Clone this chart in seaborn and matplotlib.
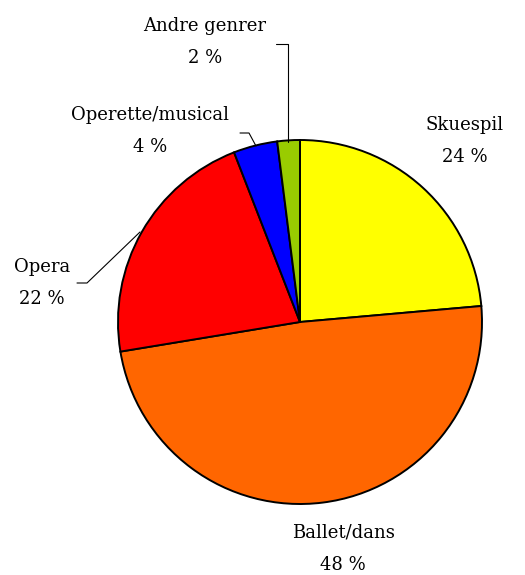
import matplotlib
matplotlib.use("Agg")
import matplotlib.pyplot as plt
import seaborn as sns

categories = ["Skuespil", "Ballet/dans", "Opera", "Operette/musical", "Andre genrer"]
shares = [23.6, 48.8, 21.7, 3.9, 2.0]
pct_labels = ["24 %", "48 %", "22 %", "4 %", "2 %"]
colors = ["#FFFF00", "#FF6600", "#FF0000", "#0000FF", "#99CC00"]

sns.set_theme(style="white")
plt.rcParams['font.family'] = ['DejaVu Serif']

W, H = 525, 575
fig = plt.figure(figsize=(W / 100, H / 100), dpi=100)
ax = fig.add_axes([0, 0, 1, 1])

def Y(y):
    return H - y

ax.pie(shares, colors=colors, startangle=90, counterclock=False,
       center=(300, Y(322)), radius=182, frame=True,
       wedgeprops=dict(edgecolor="black", linewidth=1.4))
ax.set_xlim(0, W)
ax.set_ylim(0, H)
ax.axis("off")

label_pos = {
    "Skuespil": (465, 141),
    "Ballet/dans": (343, 549),
    "Opera": (42, 283),
    "Operette/musical": (150, 131),
    "Andre genrer": (205, 42),
}
for cat, pct in zip(categories, pct_labels):
    x, y = label_pos[cat]
    ax.text(x, Y(y), f"{cat}\n{pct}", ha="center", va="center",
            fontsize=13, linespacing=2.05, color="black")

# leader lines
leaders = [
    [(288, 142), (288, 44), (276, 44)],
    [(256, 146), (249, 133), (240, 133)],
    [(140, 232), (87, 283), (77, 283)],
]
for pts in leaders:
    ax.plot([p[0] for p in pts], [Y(p[1]) for p in pts], color="black", lw=0.8)

fig.savefig("out.png", dpi=100)
